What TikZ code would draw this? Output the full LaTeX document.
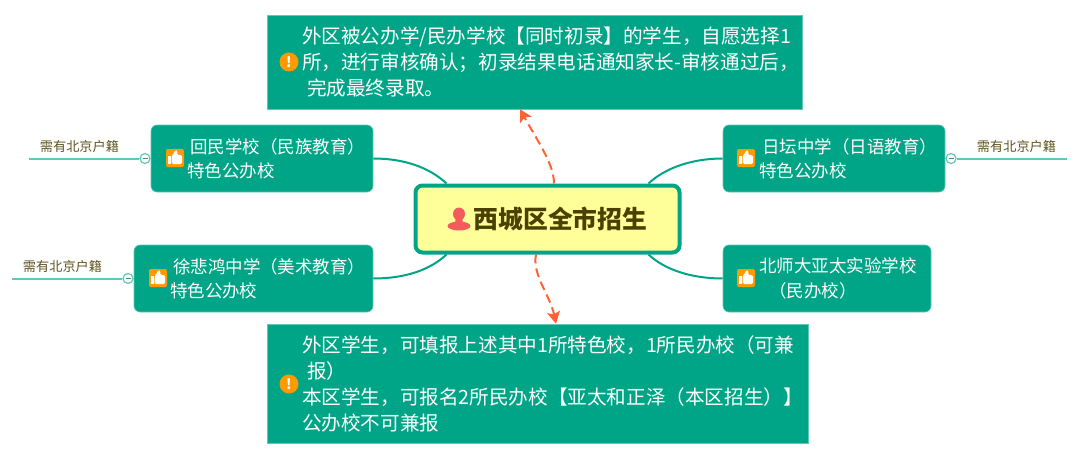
\documentclass[tikz,border=0pt]{standalone}
\usepackage{fontspec}
\setmainfont{Noto Sans CJK SC}
\usetikzlibrary{arrows.meta}
\definecolor{teal1}{HTML}{00A587}
\definecolor{teal2}{HTML}{5FC9B5}
\definecolor{orange1}{HTML}{FF9900}
\definecolor{red1}{HTML}{F25C5C}
\definecolor{arrow1}{HTML}{FF6333}
\definecolor{title1}{HTML}{4A4000}
\definecolor{note1}{HTML}{5E5520}
\definecolor{yellow1}{HTML}{FFFF99}
\begin{document}
\begin{tikzpicture}[
        x=1pt, y=-1pt,
        notebox/.style={rectangle, draw=teal2, line width=0.6pt, fill=teal1, text=white, align=left, inner xsep=0pt, inner ysep=0pt, font=\fontsize{19.6}{26}\selectfont},
        school/.style={rectangle, rounded corners=6pt, draw=teal2, line width=0.6pt, fill=teal1, text=white, align=left, inner xsep=0pt, inner ysep=0pt, minimum height=67pt, font=\fontsize{17.5}{24.5}\selectfont},
        central/.style={rectangle, rounded corners=7pt, draw=teal1, line width=4pt, fill=yellow1, text=title1, minimum width=264pt, minimum height=67pt, inner sep=0pt, font=\fontsize{24.8}{28}\selectfont\bfseries},
        hint/.style={text=note1, inner sep=0pt, font=\fontsize{13.2}{16}\selectfont},
        link/.style={teal1, line width=2pt},
        jump/.style={-{Stealth[length=12pt,width=13pt,inset=2.5pt]}, arrow1, line width=2pt, dash pattern=on 9pt off 5pt},
        tail/.style={teal2, line width=2pt},
        fold/.style={circle, draw=teal2, line width=1.2pt, fill=white, minimum size=10pt, inner sep=0pt, path picture={\draw[gray!70!teal, line width=1pt] ([xshift=-2.5pt]path picture bounding box.center) -- ([xshift=2.5pt]path picture bounding box.center);}},
        alert/.style={circle, fill=orange1, text=white, minimum size=19pt, inner sep=0pt, font=\fontsize{14}{14}\selectfont\bfseries},
        thumb/.pic={
            \fill[orange1, rounded corners=2pt] (-9,-9) rectangle (9,9);
            \fill[white] (-7,-2) rectangle (-4.5,6);
            \fill[white, rounded corners=1.5pt] (-3.5,-2.5) -- (-1.5,-3.5) -- (0,-8) -- (2.5,-7.5) -- (2,-3) -- (7,-3) -- (7,6) -- (-3.5,6) -- cycle;
        },
        person/.pic={
            \fill[red1] (0,-5) ellipse (6pt and 6.5pt);
            \fill[red1] (0,7) ellipse (11.5pt and 4.5pt);
            \fill[red1] (-3,-2) -- (3,-2) -- (4,4) -- (-4,4) -- cycle;
        }
    ]
        \useasboundingbox (0,0) rectangle (1080,460);

        % Boxes
        \node[central] (west) at (547.5,219) {\hspace*{26pt}西城区全市招生};
        \node[notebox, minimum width=535pt, minimum height=94pt, text width=535pt] (enrol) at (534.5,62) {\hspace*{35pt}外区被公办学/民办学校【同时初录】的学生，自愿选择1\\\hspace*{35pt}所，进行审核确认；初录结果电话通知家长-审核通过后，\\\hspace*{40pt}完成最终录取。};
        \node[notebox, minimum width=541pt, minimum height=119pt, text width=541pt] (apply) at (537.5,383.5) {\hspace*{35pt}外区学生，可填报上述其中1所特色校，1所民办校（可兼\\\hspace*{40pt}报）\\\hspace*{35pt}本区学生，可报名2所民办校【亚太和正泽（本区招生）】\\\hspace*{35pt}公办校不可兼报};
        \node[school, minimum width=222pt, text width=222pt] (huimin) at (262,158.5) {\hspace*{39pt}回民学校（民族教育）\\\hspace*{36pt}特色公办校};
        \node[school, minimum width=239pt, text width=239pt] (xu) at (253.5,278.5) {\hspace*{39pt}徐悲鸿中学（美术教育）\\\hspace*{36pt}特色公办校};
        \node[school, minimum width=222pt, text width=222pt] (ritan) at (834,158.5) {\hspace*{39pt}日坛中学（日语教育）\\\hspace*{36pt}特色公办校};
        \node[school, minimum width=208pt, text width=208pt] (yatai) at (827,278.5) {\hspace*{36pt}北师大亚太实验学校\\\hspace*{46pt}（民办校）};

        % Icons
        \node[alert] (alerttop) at (289,62) {!};
        \node[alert] (alertbottom) at (289,384) {!};
        \pic at (175,158) {thumb};
        \pic at (158,278) {thumb};
        \pic at (746,158) {thumb};
        \pic at (746,278) {thumb};
        \pic at (459,219) {person};

        % Tails
        \coordinate (endhuimin) at (29,158.5);
        \coordinate (endxu) at (12,278.5);
        \coordinate (endritan) at (1067,158.5);
        \node[fold] (foldhuimin) at (145,158.5) {};
        \node[fold] (foldxu) at (128,278.5) {};
        \node[fold] (foldritan) at (951,158.5) {};
        \node[hint] (hinthuimin) at (79.5,146) {需有北京户籍};
        \node[hint] (hintxu) at (62.5,266) {需有北京户籍};
        \node[hint] (hintritan) at (1016.5,146) {需有北京户籍};
        \draw[tail] (foldhuimin) -- (endhuimin);
        \draw[tail] (foldxu) -- (endxu);
        \draw[tail] (foldritan) -- (endritan);

        % Arrows
        \draw[link] (huimin.east) .. controls (405,158.5) and (430,168) .. ([xshift=33pt]west.north west);
        \draw[link] (xu.east) .. controls (405,278.5) and (430,270) .. ([xshift=33pt]west.south west);
        \draw[link] (ritan.west) .. controls (692,158.5) and (665,168) .. ([xshift=-33pt]west.north east);
        \draw[link] (yatai.west) .. controls (692,278.5) and (665,270) .. ([xshift=-33pt]west.south east);
        \draw[jump] ([xshift=6.5pt]west.north) .. controls (554,165) and (540,145) .. ([xshift=-14.5pt]enrol.south);
        \draw[jump] ([xshift=-11.5pt]west.south) .. controls (532,275) and (550,295) .. ([xshift=18.5pt]apply.north);
    \end{tikzpicture}
\end{document}
